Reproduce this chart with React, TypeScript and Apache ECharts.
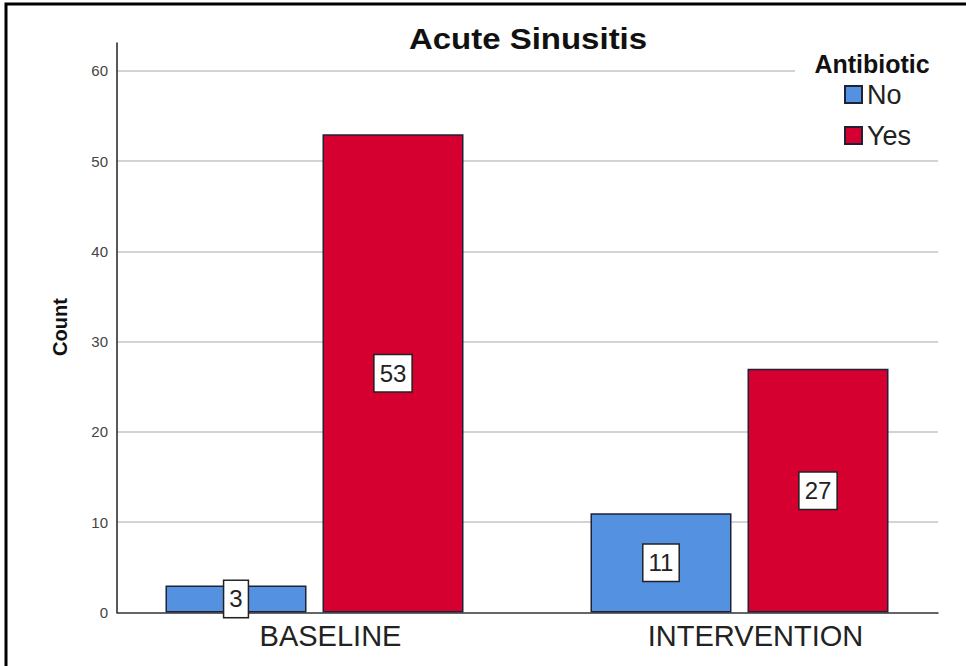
import React, { useEffect, useRef } from "react";
import * as echarts from "echarts";

// Chart data
const categories = ["BASELINE", "INTERVENTION"];
const seriesNames = ["No", "Yes"];
const noCounts = [3, 11];
const yesCounts = [53, 27];
const yMin = 0;
const yMax = 63.1;
const yInterval = 10;

const FONT = "'Liberation Sans', Arial, Helvetica, sans-serif";
const BLUE = "#5591e1";
const RED = "#d50030";
const EDGE = "#1d2236";

const valueLabel = {
  show: true,
  position: "inside",
  fontFamily: FONT,
  fontSize: 24,
  color: "#222",
  backgroundColor: "#fff",
  borderColor: "#222",
  borderWidth: 1.5,
  padding: [7, 5, 5, 5],
};

export default function App() {
  const ref = useRef<HTMLDivElement>(null);

  useEffect(() => {
    if (!ref.current) return;
    const chart = echarts.init(ref.current, null, { renderer: "svg" });

    chart.setOption({
      animation: false,
      backgroundColor: "#fff",
      grid: [
        // frame grid: axis lines and gridlines
        { left: 117, right: 28, top: 43, bottom: 53.5 },
        // bar grid
        { left: 102, right: 14, top: 43, bottom: 53.5 },
      ],
      xAxis: [
        {
          gridIndex: 0,
          type: "category",
          data: categories,
          axisLine: { lineStyle: { color: "#333", width: 1.5 } },
          axisTick: { show: false },
          axisLabel: { show: false },
        },
        {
          gridIndex: 1,
          type: "category",
          data: categories,
          axisLine: { show: false },
          axisTick: { show: false },
          axisLabel: {
            fontFamily: FONT,
            fontSize: 29,
            color: "#222",
            margin: 9,
            padding: [0, 0, 0, 32],
          },
        },
      ],
      yAxis: [
        {
          gridIndex: 0,
          type: "value",
          min: yMin,
          max: yMax,
          interval: yInterval,
          axisLine: { show: true, lineStyle: { color: "#222", width: 1.5 } },
          axisTick: { show: false },
          axisLabel: {
            fontFamily: FONT,
            fontSize: 15,
            color: "#444",
            margin: 9,
            showMaxLabel: false,
          },
          splitLine: {
            show: true,
            showMaxLine: false,
            showMinLine: false,
            lineStyle: { color: "#c4c4c4", width: 1.5 },
          },
        },
        {
          gridIndex: 1,
          type: "value",
          min: yMin,
          max: yMax,
          interval: yInterval,
          show: false,
          splitLine: { show: false },
        },
      ],
      legend: {
        orient: "vertical",
        left: 844,
        top: 81,
        padding: 0,
        itemWidth: 17,
        itemHeight: 17,
        itemGap: 14,
        icon: "rect",
        data: seriesNames,
        textStyle: { fontFamily: FONT, fontSize: 27, color: "#222", padding: [0, 0, 0, 0] },
        z: 10,
      },
      graphic: [
        {
          type: "rect",
          shape: { x: 6, y: 4, width: 1200, height: 900 },
          style: { fill: "none", stroke: "#000", lineWidth: 3 },
          z: 20,
        },
        {
          type: "rect",
          shape: { x: 795, y: 50, width: 155, height: 100 },
          style: { fill: "#fff" },
          z: 8,
        },
        {
          type: "text",
          x: 528,
          y: 39,
          scaleX: 1.1,
          style: {
            text: "Acute Sinusitis",
            fontFamily: FONT,
            fontSize: 30,
            fontWeight: "bold",
            fill: "#111",
            align: "center",
            verticalAlign: "middle",
          },
          z: 12,
        },
        {
          type: "text",
          x: 872,
          y: 64,
          style: {
            text: "Antibiotic",
            fontFamily: FONT,
            fontSize: 25,
            fontWeight: "bold",
            fill: "#111",
            align: "center",
            verticalAlign: "middle",
          },
          z: 12,
        },
        {
          type: "text",
          x: 60,
          y: 327,
          rotation: Math.PI / 2,
          style: {
            text: "Count",
            fontFamily: FONT,
            fontSize: 20,
            fontWeight: "bold",
            fill: "#111",
            align: "center",
            verticalAlign: "middle",
          },
          z: 12,
        },
      ],
      series: [
        {
          name: seriesNames[0],
          type: "bar",
          xAxisIndex: 1,
          yAxisIndex: 1,
          data: noCounts,
          barWidth: 141,
          barGap: "11.35%",
          itemStyle: { color: BLUE, borderColor: EDGE, borderWidth: 1.5 },
          label: valueLabel,
          z: 3,
        },
        {
          name: seriesNames[1],
          type: "bar",
          xAxisIndex: 1,
          yAxisIndex: 1,
          data: yesCounts,
          barWidth: 141,
          barGap: "11.35%",
          itemStyle: { color: RED, borderColor: EDGE, borderWidth: 1.5 },
          label: valueLabel,
          z: 3,
        },
      ],
    });

    return () => chart.dispose();
  }, []);

  return (
    <div
      ref={ref}
      style={{ position: "fixed", left: 0, top: 0, width: 966, height: 666, background: "#fff" }}
    />
  );
}
